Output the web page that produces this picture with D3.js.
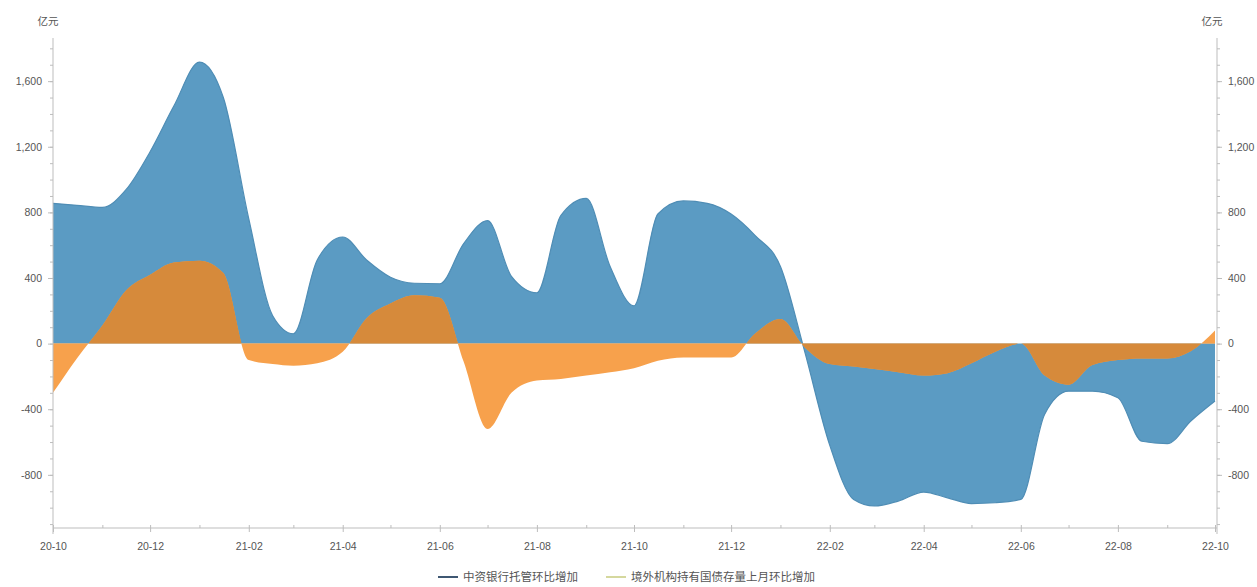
<!DOCTYPE html>
<html>
<head>
<meta charset="utf-8">
<script src="https://cdn.jsdelivr.net/npm/d3@7"></script>
<style>
  html, body { margin: 0; padding: 0; background: #fff; }
  svg { display: block; font-family: "Noto Sans CJK SC", "Noto Sans", sans-serif; }
</style>
</head>
<body>
<svg id="chart" width="1257" height="587"></svg>
<script>
// Half-month observation dates
const periods = [
  "2020-10-01","2020-10-16","2020-11-01","2020-11-16","2020-12-01","2020-12-16",
  "2021-01-01","2021-01-16","2021-02-01","2021-02-16","2021-03-01","2021-03-16",
  "2021-04-01","2021-04-16","2021-05-01","2021-05-16","2021-06-01","2021-06-16",
  "2021-07-01","2021-07-16","2021-08-01","2021-08-16","2021-09-01","2021-09-16",
  "2021-10-01","2021-10-16","2021-11-01","2021-11-16","2021-12-01","2021-12-16",
  "2022-01-01","2022-01-16","2022-02-01","2022-02-16","2022-03-01","2022-03-16",
  "2022-04-01","2022-04-16","2022-05-01","2022-05-16","2022-06-01","2022-06-16",
  "2022-07-01","2022-07-16","2022-08-01","2022-08-16","2022-09-01","2022-09-16",
  "2022-10-01"
];

// 中资银行托管环比增加 (亿元)
const bankChange = [
  855, 843, 830, 940, 1170, 1450, 1716, 1500, 760, 170, 60, 510,
  650, 510, 405, 368, 365, 610, 750, 410, 310, 780, 885, 470,
  230, 790, 870, 855, 790, 660, 470, -40, -620, -950, -990, -960,
  -905, -940, -975, -970, -950, -430, -290, -290, -330, -595, -610, -470,
  -350
];

// 境外机构持有国债存量上月环比增加 (亿元)
const foreignChange = [
  -300, -90, 110, 325, 420, 495, 505, 430, -100, -125, -135, -120,
  -50, 155, 245, 295, 280, -110, -520, -300, -225, -215, -195, -175,
  -150, -105, -85, -85, -85, 60, 150, -20, -125, -140, -155, -175,
  -195, -180, -120, -50, 0, -195, -250, -130, -100, -90, -90, -45,
  80
];

const yTickValues = [-800, -400, 0, 400, 800, 1200, 1600];
const xTickDates = ["2020-10-01","2020-12-01","2021-02-01","2021-04-01","2021-06-01",
                    "2021-08-01","2021-10-01","2021-12-01","2022-02-01","2022-04-01",
                    "2022-06-01","2022-08-01","2022-10-01"];
const xTickLabels = ["20-10","20-12","21-02","21-04","21-06","21-08","21-10",
                     "21-12","22-02","22-04","22-06","22-08","22-10"];
const unitLabel = "亿元";
const seriesNames = ["中资银行托管环比增加", "境外机构持有国债存量上月环比增加"];

const parse = d3.timeParse("%Y-%m-%d");
const dates = periods.map(parse);
const bankData = dates.map((d, i) => ({ date: d, value: bankChange[i] }));
const foreignData = dates.map((d, i) => ({ date: d, value: foreignChange[i] }));

const svg = d3.select("#chart");
const mLeft = 53, mRight = 1217, mTop = 38, mBottom = 528;

const x = d3.scaleTime()
  .domain([parse("2020-10-01"), parse("2022-10-01")])
  .range([mLeft, mRight - 2]);
const y = d3.scaleLinear()
  .domain([-1124, 1863])
  .range([mBottom, mTop]);

const area = d3.area()
  .x(d => x(d.date))
  .y0(y(0))
  .y1(d => y(d.value))
  .curve(d3.curveMonotoneX);
const line = d3.line()
  .x(d => x(d.date))
  .y(d => y(d.value))
  .curve(d3.curveMonotoneX);

// clip for the part of the foreign series that overlaps the bank series
svg.append("defs").append("clipPath").attr("id", "bankClip")
  .append("path").attr("d", area(bankData));

const plot = svg.append("g");
plot.append("path").attr("d", area(bankData)).attr("fill", "#5b9bc3");
plot.append("path").attr("d", line(bankData))
  .attr("fill", "none").attr("stroke", "#4f8db5").attr("stroke-width", 1.2);
plot.append("path").attr("d", area(foreignData)).attr("fill", "#f7a14c");
plot.append("path").attr("d", area(foreignData)).attr("fill", "#d68a3b")
  .attr("clip-path", "url(#bankClip)");

const axisColor = "#bdbdbd", textColor = "#555";
const fmt = d => d3.format(",")(d).replace("\u2212", "-");

// y axes with minor ticks
function yAxis(g, orient) {
  const make = () => orient === "left" ? d3.axisLeft(y) : d3.axisRight(y);
  g.call(make().tickValues(yTickValues).tickSize(5).tickPadding(6).tickFormat(fmt));
  g.append("g")
    .call(make().tickValues(d3.range(-1100, 1900, 100)).tickSize(3).tickFormat(""))
    .call(m => m.select(".domain").remove());
  g.selectAll(".domain").attr("stroke", axisColor).attr("d", `M0,${mTop}V${mBottom + 6}`);
  g.selectAll("line").attr("stroke", axisColor);
  g.selectAll("text").attr("fill", textColor).attr("font-size", 10.5);
}
svg.append("g").attr("transform", `translate(${mLeft},0)`).call(g => yAxis(g, "left"));
svg.append("g").attr("transform", `translate(${mRight},0)`).call(g => yAxis(g, "right"));

// x axis
const xAxis = d3.axisBottom(x)
  .tickValues(xTickDates.map(parse))
  .tickFormat((d, i) => xTickLabels[i])
  .tickSize(4).tickPadding(11);
const gx = svg.append("g").attr("transform", `translate(0,${mBottom})`).call(xAxis);
gx.append("g").call(d3.axisBottom(x).ticks(d3.timeMonth.every(1)).tickSize(-3).tickFormat(""))
  .call(m => m.select(".domain").remove());
gx.selectAll(".domain").attr("stroke", axisColor).attr("d", `M${mLeft},0H${mRight}`);
gx.selectAll("line").attr("stroke", axisColor);
gx.selectAll("text").attr("fill", textColor).attr("font-size", 10.5);

// unit labels
svg.append("text").attr("x", 48).attr("y", 25).attr("text-anchor", "middle")
  .attr("fill", textColor).attr("font-size", 10.5).text(unitLabel);
svg.append("text").attr("x", 1212).attr("y", 25).attr("text-anchor", "middle")
  .attr("fill", textColor).attr("font-size", 10.5).text(unitLabel);

// legend
const legendItems = [
  { name: seriesNames[0], color: "#3f5873", x: 438 },
  { name: seriesNames[1], color: "#d5d89e", x: 606 }
];
const lg = svg.append("g");
legendItems.forEach(it => {
  lg.append("line").attr("x1", it.x).attr("x2", it.x + 20)
    .attr("y1", 577).attr("y2", 577).attr("stroke", it.color).attr("stroke-width", 2);
  lg.append("text").attr("x", it.x + 25).attr("y", 581)
    .attr("fill", textColor).attr("font-size", 11.5).text(it.name);
});
</script>
</body>
</html>
